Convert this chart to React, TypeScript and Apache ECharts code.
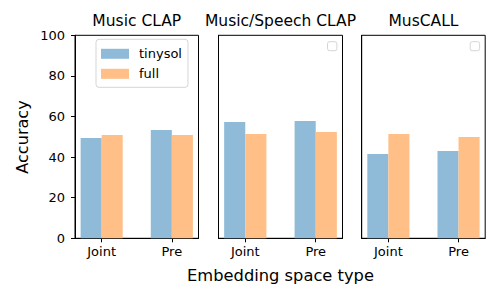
import React, { useEffect, useRef } from "react";
import * as echarts from "echarts";

const categories = ["Joint", "Pre"];
const seriesNames = ["tinysol", "full"];
const panelTitles = ["Music CLAP", "Music/Speech CLAP", "MusCALL"];
const musicClapTinysol = [49.4, 53.3];
const musicClapFull = [50.9, 50.9];
const msClapTinysol = [57.3, 57.8];
const msClapFull = [51.4, 52.4];
const muscallTinysol = [41.5, 43.0];
const muscallFull = [51.4, 49.9];
const yTicks = [0, 20, 40, 60, 80, 100];
const yLabel = "Accuracy";
const xLabel = "Embedding space type";

const panelValues = [
  [musicClapTinysol, musicClapFull],
  [msClapTinysol, msClapFull],
  [muscallTinysol, muscallFull],
];

const FONT = "'DejaVu Sans', sans-serif";
const COLORS = ["#8fbbd9", "#ffbf86"];
const X_MIN = -0.38;
const X_MAX = 1.38;
const GRID_TOP = 35.3;
const GRID_H = 203;
const grids = [
  { left: 75, width: 123.5 },
  { left: 218.5, width: 124 },
  { left: 361.7, width: 123.5 },
];

export default function App() {
  const ref = useRef<HTMLDivElement>(null);
  useEffect(() => {
    if (!ref.current) return;
    const chart = echarts.init(ref.current, null, { renderer: "svg" });
    const series: any[] = [];
    panelValues.forEach((pair, gi) => {
      const bw = (0.3 * grids[gi].width) / (X_MAX - X_MIN);
      pair.forEach((vals, si) => {
        series.push({
          type: "bar",
          name: seriesNames[si],
          xAxisIndex: gi,
          yAxisIndex: gi,
          barWidth: bw,
          barGap: "0%",
          itemStyle: { color: COLORS[si] },
          data: categories.map((_, i) => [i, vals[i]]),
        });
      });
    });
    const graphic: any[] = [];
    grids.forEach((g, gi) => {
      graphic.push({
        type: "text",
        x: g.left + g.width / 2,
        y: 21,
        style: {
          text: panelTitles[gi],
          fontSize: 15.5,
          fontFamily: FONT,
          fill: "#000",
          align: "center",
          verticalAlign: "middle",
        },
      });
      if (gi > 0) {
        graphic.push({
          type: "rect",
          shape: { x: g.left + g.width - 15, y: GRID_TOP + 6.4, width: 9.4, height: 9, r: 2 },
          style: { fill: "#fff", stroke: "#d5d5d5", lineWidth: 1 },
        });
      }
    });
    graphic.push({
      type: "text",
      x: grids[1].left + grids[1].width / 2,
      y: 275,
      style: { text: xLabel, fontSize: 16.3, fontFamily: FONT, fill: "#000", align: "center", verticalAlign: "middle" },
    });
    graphic.push({
      type: "text",
      x: 22,
      y: 137,
      rotation: Math.PI / 2,
      style: { text: yLabel, fontSize: 16.1, fontFamily: FONT, fill: "#000", align: "center", verticalAlign: "middle" },
    });

    chart.setOption({
      animation: false,
      backgroundColor: "#fff",
      grid: grids.map((g) => ({
        left: g.left,
        top: GRID_TOP,
        width: g.width,
        height: GRID_H,
        show: true,
        borderColor: "#000",
        borderWidth: 1,
        containLabel: false,
      })),
      xAxis: grids.map((_, gi) => ({
        type: "value",
        gridIndex: gi,
        min: X_MIN,
        max: X_MAX,
        splitLine: { show: false },
        axisLine: { show: true, onZero: false, lineStyle: { color: "#000", width: 1 } },
        axisTick: { show: true, customValues: [0, 1], length: 4, lineStyle: { color: "#000" } },
        axisLabel: {
          show: true,
          customValues: [0, 1],
          formatter: (v: number) => categories[Math.round(v)] ?? "",
          fontSize: 13,
          fontFamily: FONT,
          color: "#000",
          margin: 7,
        },
      })),
      yAxis: grids.map((_, gi) => ({
        type: "value",
        gridIndex: gi,
        min: 0,
        max: 100,
        interval: 20,
        splitLine: { show: false },
        axisLine: { show: true, onZero: false, lineStyle: { color: "#000", width: 1 } },
        axisTick: { show: gi === 0, length: 4, lineStyle: { color: "#000" } },
        axisLabel: {
          show: gi === 0,
          fontSize: 13,
          fontFamily: FONT,
          color: "#000",
          margin: 10,
          formatter: (v: number) => (yTicks.includes(v) ? String(v) : ""),
        },
      })),
      legend: {
        data: seriesNames,
        orient: "vertical",
        left: 96,
        top: 39.3,
        itemWidth: 28,
        itemHeight: 10,
        itemGap: 7,
        icon: "rect",
        padding: [8, 6, 7, 5],
        borderColor: "#d5d5d5",
        borderWidth: 1,
        borderRadius: 3,
        backgroundColor: "#fff",
        textStyle: { fontSize: 13, fontFamily: FONT, color: "#000", padding: [0, 0, 0, 5] },
      },
      graphic,
      series,
    });
    return () => chart.dispose();
  }, []);
  return (
    <div
      ref={ref}
      style={{ position: "fixed", left: 0, top: 0, width: 500, height: 300, background: "#fff" }}
    />
  );
}
